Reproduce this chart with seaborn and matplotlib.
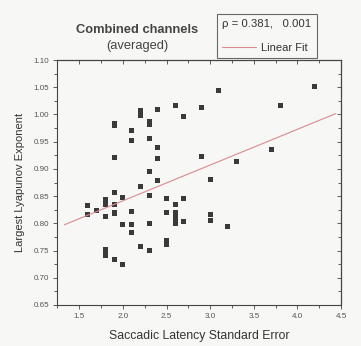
import numpy as np
import pandas as pd
import matplotlib
matplotlib.use('Agg')
import matplotlib.pyplot as plt
from matplotlib.ticker import MultipleLocator, FormatStrFormatter
import seaborn as sns

# values
latency_se = [4.2, 3.1, 3.8, 2.6, 2.9, 2.4, 2.2, 2.2, 2.7, 2.3,
              2.3, 1.9, 1.9, 2.1, 2.1, 2.3, 2.4, 2.4, 1.9, 2.9,
              3.7, 3.3, 2.3, 3.0, 2.4, 2.2, 1.9, 2.3, 2.0, 1.8,
              1.8, 2.5, 2.7, 2.6, 1.6, 1.9, 1.7, 1.6, 1.8, 1.9,
              2.1, 2.5, 2.6, 2.6, 2.6, 2.6, 2.7, 3.0, 3.0, 3.2,
              2.0, 2.1, 2.1, 2.3, 2.5, 2.5, 2.2, 2.3, 1.8, 1.8,
              1.8, 1.9, 2.0]
lyapunov = [1.052, 1.044, 1.017, 1.016, 1.012, 1.009, 1.007, 0.998, 0.997, 0.987,
            0.982, 0.984, 0.979, 0.970, 0.953, 0.956, 0.939, 0.919, 0.921, 0.922,
            0.935, 0.913, 0.896, 0.880, 0.878, 0.867, 0.857, 0.851, 0.847, 0.844,
            0.835, 0.845, 0.845, 0.834, 0.833, 0.835, 0.824, 0.817, 0.813, 0.819,
            0.821, 0.820, 0.820, 0.813, 0.807, 0.799, 0.804, 0.816, 0.806, 0.795,
            0.798, 0.797, 0.783, 0.799, 0.768, 0.762, 0.758, 0.751, 0.752, 0.747,
            0.741, 0.734, 0.725]

# linear fit as drawn
fit_slope = 0.0657
fit_intercept = 0.710
fit_x = [1.33, 4.44]

rho_text = '\u03c1 = 0.381,   0.001'

df = pd.DataFrame({'se': latency_se, 'lle': lyapunov})
fit_df = pd.DataFrame({'se': fit_x})
fit_df['lle'] = fit_intercept + fit_slope * fit_df['se']

sns.set_style('ticks')
plt.rcParams['font.family'] = ['Liberation Sans', 'DejaVu Sans']

bg = '#f7f7f5'
fig = plt.figure(figsize=(3.61, 3.46), dpi=100, facecolor=bg)
ax = fig.add_axes([0.159, 0.1185, 0.786, 0.708])
ax.set_facecolor(bg)

sns.lineplot(data=fit_df, x='se', y='lle', ax=ax, color='#d98a8f', lw=0.8,
             label='Linear Fit')
sns.scatterplot(data=df, x='se', y='lle', ax=ax, marker='s', s=13,
                color='#3a3a3a', edgecolor='none', legend=False)

ax.set_xlim(1.25, 4.5)
ax.set_ylim(0.65, 1.10)
ax.xaxis.set_major_locator(MultipleLocator(0.5))
ax.xaxis.set_minor_locator(MultipleLocator(0.25))
ax.yaxis.set_major_locator(MultipleLocator(0.05))
ax.yaxis.set_minor_locator(MultipleLocator(0.025))
ax.xaxis.set_major_formatter(FormatStrFormatter('%.1f'))
ax.yaxis.set_major_formatter(FormatStrFormatter('%.2f'))

for s in ax.spines.values():
    s.set_color('#444444')
    s.set_linewidth(0.8)
ax.tick_params(which='both', direction='out', colors='#444444', labelsize=5.8,
               labelcolor='#555555', width=0.6)
ax.tick_params(which='major', length=3, pad=3)
ax.tick_params(which='minor', length=2)

# inward ticks on top and right
top = ax.secondary_xaxis('top')
top.xaxis.set_major_locator(MultipleLocator(0.5))
top.xaxis.set_minor_locator(MultipleLocator(0.25))
top.tick_params(which='both', direction='in', colors='#444444', labeltop=False, width=0.6)
top.tick_params(which='major', length=3)
top.tick_params(which='minor', length=2)
right = ax.secondary_yaxis('right')
right.yaxis.set_major_locator(MultipleLocator(0.05))
right.yaxis.set_minor_locator(MultipleLocator(0.025))
right.tick_params(which='both', direction='in', colors='#444444', labelright=False, width=0.6)
right.tick_params(which='major', length=3)
right.tick_params(which='minor', length=2)

ax.set_xlabel('Saccadic Latency Standard Error', fontsize=8.8, color='#333333', labelpad=7)
ax.set_ylabel('Largest Lyapunov Exponent', fontsize=8, color='#333333', labelpad=6)

leg = ax.legend(title=rho_text, alignment='left', loc='lower left',
                bbox_to_anchor=(0.564, 1.008), frameon=True, fancybox=False,
                fontsize=8, title_fontsize=8.2, handlelength=3.0,
                borderpad=0.45, labelspacing=0.2, handletextpad=0.5,
                borderaxespad=0)
leg._legend_box.sep = 10
leg.get_frame().set_edgecolor('#444444')
leg.get_frame().set_linewidth(0.8)
leg.get_frame().set_facecolor(bg)
leg.get_title().set_color('#333333')
for t in leg.get_texts():
    t.set_color('#333333')

fig.text(0.38, 0.913, 'Combined channels', ha='center', va='center',
         fontsize=9.3, fontweight='bold', color='#444444')
fig.text(0.38, 0.867, '(averaged)', ha='center', va='center',
         fontsize=9.3, color='#444444')

fig.savefig('out.png', dpi=100, facecolor=bg)
plt.close(fig)
